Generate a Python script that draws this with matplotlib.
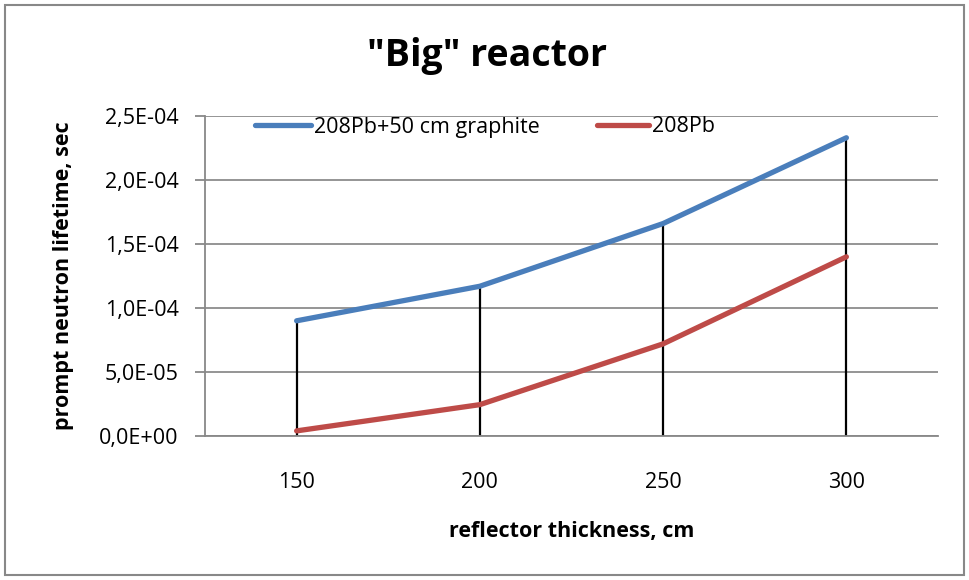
import matplotlib
matplotlib.use("Agg")
import matplotlib.pyplot as plt
from matplotlib.ticker import FuncFormatter, FixedLocator
from matplotlib.patches import Rectangle

# Reflector thickness categories (cm) and prompt neutron lifetime (s)
thickness = [150, 200, 250, 300]
lifetime_graphite = [9.0e-5, 1.17e-4, 1.66e-4, 2.33e-4]
lifetime_pb = [4.0e-6, 2.45e-5, 7.2e-5, 1.40e-4]
series_names = ["208Pb+50 cm graphite", "208Pb"]
y_ticks = [0.0, 5.0e-5, 1.0e-4, 1.5e-4, 2.0e-4, 2.5e-4]

plt.rcParams['font.family'] = ['Open Sans', 'DejaVu Sans']

W, H = 969, 580
fig = plt.figure(figsize=(W / 100, H / 100), dpi=100)

# outer chart frame
fig.patches.append(Rectangle((5 / W, 5 / H), 959 / W, 570 / H, transform=fig.transFigure,
                             fill=False, edgecolor='#888888', linewidth=1.5))

ax = fig.add_axes([205 / W, (H - 436) / H, (938 - 205) / W, (436 - 116) / H])

pos = list(range(len(thickness)))

# drop lines from the highest series down to the axis
for p, a, b in zip(pos, lifetime_graphite, lifetime_pb):
    ax.plot([p, p], [0, max(a, b)], color='black', linewidth=1.6, zorder=2)

l1, = ax.plot(pos, lifetime_graphite, color='#4A7EBB', linewidth=3.8, solid_capstyle='round',
              label=series_names[0], zorder=3)
l2, = ax.plot(pos, lifetime_pb, color='#BE4B48', linewidth=3.8, solid_capstyle='round',
              label=series_names[1], zorder=3)

ax.set_xlim(-0.5, len(thickness) - 0.5)
ax.set_ylim(0, 2.5e-4)
ax.xaxis.set_major_locator(FixedLocator(pos))
ax.set_xticklabels([str(t) for t in thickness], fontsize=15.5)
ax.yaxis.set_major_locator(FixedLocator(y_ticks))
ax.yaxis.set_major_formatter(FuncFormatter(lambda v, _: f"{v:.1E}".replace('.', ',')))
ax.tick_params(axis='y', labelsize=15.5, length=7, color='#888888', width=1.3, pad=12)
ax.tick_params(axis='x', length=0, pad=26)

ax.grid(axis='y', color='#8c8c8c', linewidth=1.3)
ax.set_axisbelow(True)
for s in ['top', 'right']:
    ax.spines[s].set_visible(False)
ax.spines['left'].set_color('#888888')
ax.spines['left'].set_linewidth(1.3)
ax.spines['bottom'].set_color('#888888')
ax.spines['bottom'].set_linewidth(1.3)

ax.set_xlabel("reflector thickness, cm", fontsize=15.5, fontweight='bold', labelpad=20)
ax.set_ylabel("prompt neutron lifetime, sec", fontsize=15.5, fontweight='bold', labelpad=18)

fig.text(487 / W, 1 - 56 / H, '"Big" reactor', fontsize=27, fontweight='bold',
         ha='center', va='center')

# two legend entries placed along the top of the plot area
leg1 = ax.legend(handles=[l1], loc='center left', bbox_to_anchor=(50 / 733, 1 - 11 / 320),
                 frameon=False, fontsize=15.5, handlelength=2.6, handletextpad=0.15,
                 borderaxespad=0, borderpad=0)
ax.add_artist(leg1)
ax.legend(handles=[l2], loc='center left', bbox_to_anchor=(392 / 733, 1 - 11 / 320),
          frameon=False, fontsize=15.5, handlelength=2.4, handletextpad=0.15,
          borderaxespad=0, borderpad=0)

fig.savefig("out.png", dpi=100)
